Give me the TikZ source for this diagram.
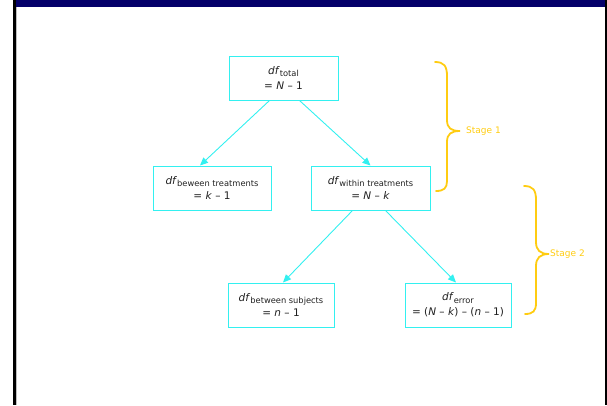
\documentclass[tikz,border=0pt]{standalone}
\usepackage{fontspec}
\setmainfont{DejaVu Sans}
\usetikzlibrary{arrows.meta}
\definecolor{navybar}{HTML}{04006A}
\definecolor{boxcyan}{HTML}{33F0F0}
\definecolor{bracegold}{HTML}{FFCC11}
\definecolor{inkgray}{HTML}{202020}
\tikzset{
  dfbox/.style={draw=boxcyan, line width=1pt, minimum height=44pt, align=center,
    inner xsep=4pt, text=inkgray, font=\fontsize{10.5}{15}\selectfont},
  flow/.style={draw=boxcyan, line width=0.9pt, -{Triangle[length=8pt,width=7pt]}},
  stagebrace/.style={draw=bracegold, line width=1.8pt, line cap=round},
  stagelabel/.style={text=bracegold, anchor=west, inner sep=0pt, font=\fontsize{9}{11}\selectfont},
}
\newcommand{\dfsub}[1]{\textit{df}\raisebox{-2.5pt}{\fontsize{8.3}{9}\selectfont #1}}
\begin{document}
\begin{tikzpicture}[x=1pt,y=-1pt]
  \useasboundingbox (0,0) rectangle (607,405);
  % frame: top bar and side rules
  \fill[navybar] (13,0) rectangle (607,7);
  \fill[black] (13,0) rectangle (15.5,405);
  \fill[gray!50] (15.5,7) rectangle (16.5,405);
  \fill[black] (604.5,0) rectangle (606.5,405);

  % degrees-of-freedom boxes
  \node[dfbox, minimum width=109pt] (tot) at (283.5,78) {\dfsub{total}\\= \textit{N} – 1};
  \node[dfbox, minimum width=118pt] (btr) at (212,188) {\dfsub{beween treatments}\\= \textit{k} – 1};
  \node[dfbox, minimum width=119pt] (wtr) at (370.5,188) {\dfsub{within treatments}\\= \textit{N} – \textit{k}};
  \node[dfbox, minimum width=106pt] (bsu) at (281,305) {\dfsub{between subjects}\\= \textit{n} – 1};
  \node[dfbox, minimum width=106pt] (err) at (458,305) {\dfsub{error}\\= (\textit{N} – \textit{k}) – (\textit{n} – 1)};

  % partition arrows
  \draw[flow] ([xshift=-14pt]tot.south) -- ([xshift=-12pt]btr.north);
  \draw[flow] ([xshift=16pt]tot.south) -- ([xshift=0pt]wtr.north);
  \draw[flow] ([xshift=-18pt]wtr.south) -- ([xshift=2pt]bsu.north);
  \draw[flow] ([xshift=15pt]wtr.south) -- ([xshift=-2pt]err.north);

  % stage braces
  \draw[stagebrace] (435,62) .. controls (444,62) and (447,66) .. (447,76)
    -- (447,120) .. controls (447,128) and (451,131) .. (460,131)
    .. controls (451,131) and (447,134) .. (447,142)
    -- (447,181) .. controls (447,188) and (444,191) .. (436,191);
  \node[stagelabel] (s1) at (466,131) {Stage 1};
  \draw[stagebrace] (524,186) .. controls (533,186) and (536,190) .. (536,200)
    -- (536,242) .. controls (536,250) and (540,254) .. (549,254)
    .. controls (540,254) and (536,258) .. (536,266)
    -- (536,303) .. controls (536,311) and (533,314) .. (525,314);
  \node[stagelabel] (s2) at (550,254) {Stage 2};
\end{tikzpicture}
\end{document}
